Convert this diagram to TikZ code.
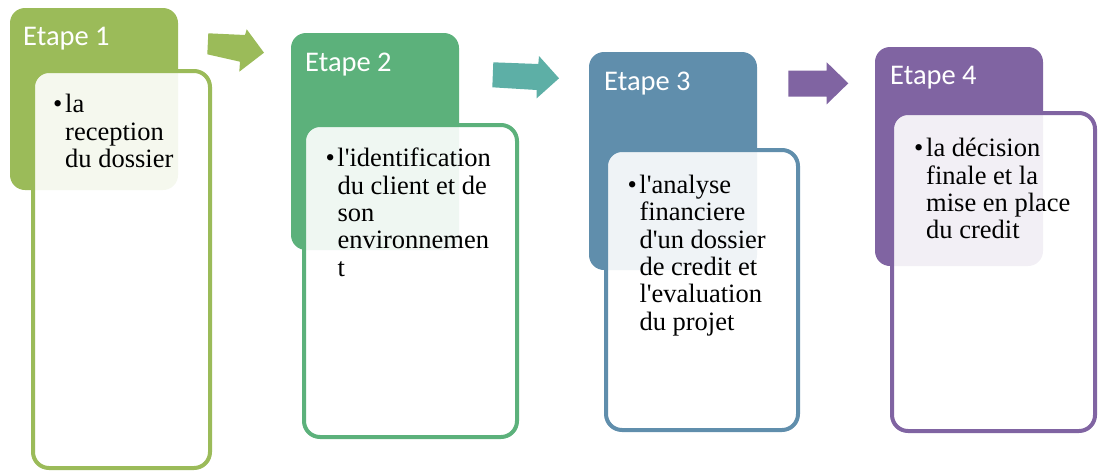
\documentclass[tikz,border=0pt]{standalone}
\usepackage{fontspec}
\setmainfont{Liberation Serif}[Ligatures=TeXOff]
\newfontfamily\stagesans{Carlito}
\definecolor{cA}{HTML}{9BBB59}
\definecolor{cB}{HTML}{5CB17B}
\definecolor{cC}{HTML}{608EAC}
\definecolor{cD}{HTML}{8064A2}
\definecolor{cT}{HTML}{5DAFA6}
\begin{document}
\begin{tikzpicture}[x=1pt,y=-1pt,
  hdr/.style={rectangle, rounded corners=15pt, minimum width=168pt, anchor=north west, inner sep=0pt, outer sep=0pt},
  card/.style={rectangle, rounded corners=16pt, draw, line width=4pt, fill=white, fill opacity=0.9, draw opacity=1, anchor=north west, inner sep=0pt, outer sep=0pt},
  htext/.style={anchor=base west, inner sep=0pt, text=white, font=\stagesans\fontsize{28.5}{30}\selectfont},
  btext/.style={anchor=base west, inner sep=0pt, font=\rmfamily\fontsize{26.5}{27.4}\selectfont}]
\useasboundingbox (0,0) rectangle (1099,472);

% Stage 1
\node[hdr, fill=cA, minimum height=182pt] (h1) at (10,8) {};
\node[card, draw=cA, minimum width=177pt, minimum height=397pt] (b1) at (33,71) {};
\node[htext] (e1) at (23,45) {Etape 1};
\node[btext] (t1) at (53,112.7) {\begin{tabular}[t]{@{}p{12pt}@{}l@{}}•&la\\&reception\\&du dossier\end{tabular}};

% Stage 2
\node[hdr, fill=cB, minimum height=217pt] (h2) at (291,33) {};
\node[card, draw=cB, minimum width=213pt, minimum height=312pt] (b2) at (304,125) {};
\node[htext] (e2) at (305,71.7) {Etape 2};
\node[btext] (t2) at (325.3,166.7) {\begin{tabular}[t]{@{}p{12pt}@{}l@{}}•&l'identification\\&du client et de\\&son\\&environnemen\\&t\end{tabular}};

% Stage 3
\node[hdr, fill=cC, minimum height=218pt] (h3) at (589,52) {};
\node[card, draw=cC, minimum width=192pt, minimum height=280pt] (b3) at (606,150) {};
\node[htext] (e3) at (604,90) {Etape 3};
\node[btext] (t3) at (627.3,193.3) {\begin{tabular}[t]{@{}p{12pt}@{}l@{}}•&l'analyse\\&financiere\\&d'un dossier\\&de credit et\\&l'evaluation\\&du projet\end{tabular}};

% Stage 4
\node[hdr, fill=cD, minimum height=219pt] (h4) at (875,47) {};
\node[card, draw=cD, minimum width=203pt, minimum height=318pt] (b4) at (892,113) {};
\node[htext] (e4) at (890,84) {Etape 4};
\node[btext] (t4) at (914,156.7) {\begin{tabular}[t]{@{}p{12pt}@{}l@{}}•&la décision\\&finale et la\\&mise en place\\&du credit\end{tabular}};

% Arrows
\fill[cA] (208.3,33.3) -- (245,35) -- (246.7,29.3) -- (264,52.7) -- (239.3,71.7) -- (240,61.7) -- (207.3,54.3) -- cycle;
\fill[cT] (493.3,62.3) -- (538.3,64) -- (539,56) -- (559,78.3) -- (536.7,98.3) -- (536.7,90) -- (492.3,87.3) -- cycle;
\fill[cD] (788.3,70.7) -- (826.7,70.7) -- (826.7,62.3) -- (848.3,83.3) -- (826.7,104.3) -- (826.7,96.7) -- (788.3,96.7) -- cycle;
\end{tikzpicture}
\end{document}
